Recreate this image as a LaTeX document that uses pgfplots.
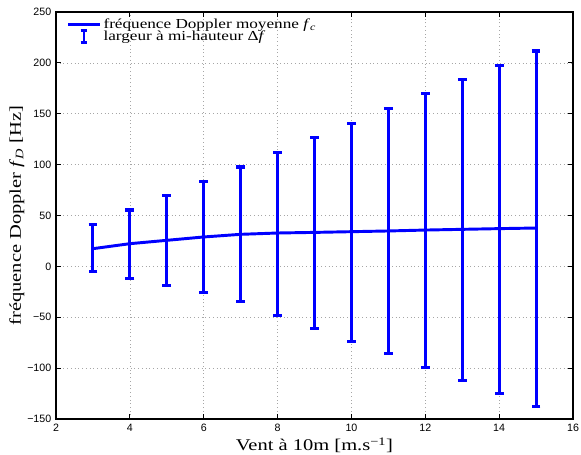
\documentclass[border=0pt]{standalone}
\usepackage{fontspec}
\setmainfont[FakeStretch=1.25]{Liberation Serif}
\newfontfamily\helv{Liberation Sans}
\usepackage{pgfplots}
\pgfplotsset{compat=1.18}
\usepackage{pgfplotstable}

% vent [m/s], frequence moyenne fc [Hz], demi-largeur haute / basse [Hz]
\pgfplotstableread{
vent fc   ep    em
3    17.4 23.9  22.6
4    22.3 33.1  34.1
5    25.6 43.9  44.0
6    28.9 54.6  54.5
7    31.5 66.1  66.3
8    32.8 78.9  80.8
9    33.4 93.2  94.1
10   34.1 106.6 107.6
11   34.8 120.7 120.8
12   35.7 133.9 134.7
13   36.4 147.3 148.3
14   37.1 160.7 161.8
15   37.7 173.9 175.2
}\mesures

\begin{document}
\begin{tikzpicture}
\begin{axis}[
  scale only axis,
  width=387.75pt, height=305.25pt,
  xmin=2, xmax=16, ymin=-150, ymax=250,
  xtick={2,4,...,16}, ytick={-150,-100,...,250},
  yticklabels={−150,−100,−50,0,50,100,150,200,250},
  tick align=inside, major tick length=3.75pt,
  grid=major,
  major grid style={gray!70, line width=0.4pt, dash pattern=on 0.6pt off 2.2pt},
  axis line style={line width=0.8pt},
  tick style={black, line width=0.6pt},
  ticklabel style={font=\helv\fontsize{8}{9}\selectfont},
  /pgf/number format/assume math mode=true,
  xlabel={Vent à 10m [m.s\textsuperscript{−1}]},
  ylabel={fréquence Doppler \textit{f}\textsubscript{\textit{D}} [Hz]},
  label style={font=\fontsize{12.3}{14}\selectfont},
  xlabel style={at={(axis description cs:0.5,-0.0786)}, anchor=base},
  ylabel style={at={(axis description cs:-0.0677,0.5)}, anchor=base},
  legend style={at={(axis description cs:0.02,0.99)}, anchor=north west,
    draw=none, fill=none, font=\fontsize{10.3}{10}\selectfont,
    row sep=-2.5pt, inner sep=0pt, nodes={inner sep=1.5pt}},
  legend cell align=left,
]
\addplot[blue, line width=2.2pt,
  legend image code/.code={\draw[blue, line width=2.2pt] (0pt,0pt) -- (24pt,0pt);}]
  table[x=vent, y=fc] {\mesures};
\addlegendentry{fréquence Doppler moyenne \textit{f}\textsubscript{\textit{c}}}

\addplot[blue, draw=none, mark=none,
  legend image code/.code={
    \draw[blue, line width=1.6pt] (12pt,-4.5pt) -- (12pt,4.5pt);
    \draw[blue, line width=2pt] (9.5pt,-4.5pt) -- (14.5pt,-4.5pt);
    \draw[blue, line width=2pt] (9.5pt,4.5pt) -- (14.5pt,4.5pt);},
  error bars/.cd, y dir=both, y explicit,
  error bar style={line width=2.2pt, blue},
  error mark options={line width=2.4pt, mark size=3.3pt, blue, rotate=90}]
  table[x=vent, y=fc, y error plus=ep, y error minus=em] {\mesures};
\addlegendentry{largeur à mi-hauteur Δ\textit{f}}
\end{axis}
\pgfresetboundingbox
\path ([shift={(-42pt,-26.25pt)}]current axis.south west)
  rectangle ([shift={(6pt,9pt)}]current axis.north east);
\end{tikzpicture}
\end{document}
